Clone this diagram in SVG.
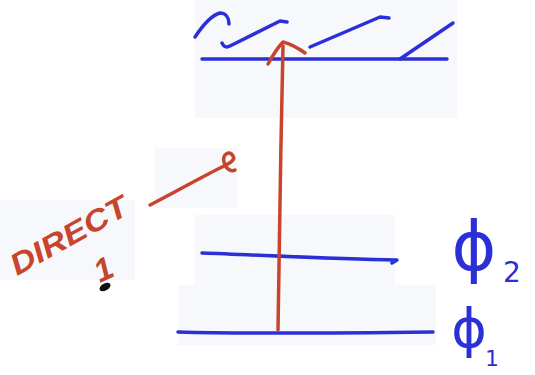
<svg xmlns="http://www.w3.org/2000/svg" width="535" height="375" viewBox="0 0 535 375">
<style>
.bg{fill:#f7f8fc}
.blue{fill:none;stroke:#2b2fd6;stroke-width:3.5;stroke-linecap:round;stroke-linejoin:round}
.red{fill:none;stroke:#c8442c;stroke-width:3.5;stroke-linecap:round;stroke-linejoin:round}
.redt{fill:#c8442c;font-family:"Liberation Sans",Arial,sans-serif;font-style:italic;font-weight:bold}
.bluet{fill:#2b2fd6;font-family:"DejaVu Sans",sans-serif}
</style>
<rect width="535" height="375" fill="#ffffff"/>
<g id="background">
<rect class="bg" x="195" y="0" width="262" height="118"/>
<rect class="bg" x="155" y="148" width="82" height="60"/>
<rect class="bg" x="0" y="200" width="135" height="80"/>
<rect class="bg" x="178" y="285" width="258" height="60"/>
<rect class="bg" x="195" y="215" width="200" height="70"/>
</g>
<g id="surface">
<path class="blue" d="M202,59 L447,59"/>
<path class="blue" d="M195,37 C203,25 212,15 220,13 C226,13 229,18 229,24"/>
<path class="blue" d="M222,43 C224,47 226,48 230,46 L280,21 L287,22"/>
<path class="blue" d="M310,47 L380,17 L389,18"/>
<path class="blue" d="M400,59 L453,23"/>
</g>
<g id="phi2-level">
<path class="blue" d="M202,253 C260,255 330,259 397,260 L392,263"/>
<text class="bluet" x="474" y="270" font-size="68" text-anchor="middle">ϕ</text>
<text class="bluet" x="503" y="282" font-size="28">2</text>
</g>
<g id="phi1-level">
<path class="blue" d="M178,332 C250,334 350,333 433,332"/>
<text class="bluet" x="469" y="347" font-size="54" text-anchor="middle">ϕ</text>
<text class="bluet" x="485" y="366" font-size="22">1</text>
</g>
<g id="direct-label">
<text class="redt" x="17" y="276" font-size="30" textLength="130" lengthAdjust="spacingAndGlyphs" transform="rotate(-29 17 276)">DIRECT</text>
<text class="redt" x="100" y="283" font-size="32" transform="rotate(-25 100 283)">1</text>
<ellipse cx="105" cy="287" rx="6" ry="3.5" fill="#111" transform="rotate(-30 105 287)"/>
</g>
<g id="connectors">
<path class="red" d="M278,330 C279,240 281,140 283,46"/>
<path class="red" d="M268,64 C273,55 278,47 283,42 C291,44 298,48 305,53"/>
<path class="red" d="M150,205 C175,192 200,178 220,168 C230,163 236,160 233,156 C230,150 222,154 224,162 C226,170 232,172 235,170"/>
</g>
</svg>
